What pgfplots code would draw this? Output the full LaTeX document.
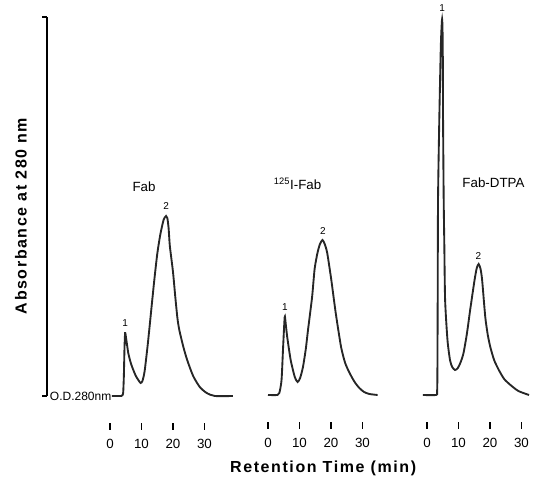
\documentclass[border=0pt]{standalone}
\usepackage{fontspec}
\setmainfont{Liberation Sans}
\newfontfamily\titlefont{Liberation Sans}[LetterSpace=10]
\usepackage{pgfplots}
\pgfplotsset{compat=1.18}

% 1 px of the reference = 0.75pt; 3.15 px per minute
\pgfplotsset{
  panel/.style={
    anchor=origin, x=2.3625pt, y=0.75pt,
    xmin=-1.5, xmax=40, ymin=-34, ymax=385,
    axis x line*=bottom, axis y line=none,
    x axis line style={draw=none},
    xtick={0,10,20,30},
    xtick align=inside, major tick length=5.25pt,
    tick style={line width=0.8pt, black},
    xticklabel style={font=\fontsize{10}{11}\selectfont, yshift=-3pt},
    /pgf/number format/assume math mode=true,
    clip=false,
  },
}
\tikzset{
  curve/.style={line width=1.4pt, black!85, smooth, tension=0.4},
  pk/.style={font=\fontsize{7.5}{9}\selectfont, inner sep=0pt},
  tl/.style={font=\fontsize{10}{11}\selectfont, inner sep=0pt},
}

\begin{document}
\begin{tikzpicture}
\path[use as bounding box] (0,0) rectangle (402.75pt,359.25pt);

% shared absorbance bracket
\begin{axis}[
  anchor=origin, at={(35.25pt,62.25pt)},
  x=1pt, y=0.75pt, xmin=0, xmax=1, ymin=0, ymax=379,
  axis x line=none, axis y line*=left,
  ytick={0,379}, yticklabels={},
  tick align=outside, major tick length=3.75pt,
  tick style={line width=0.8pt, black},
  y axis line style={line width=0.8pt},
  ylabel={\titlefont\bfseries\fontsize{12}{14}\selectfont Absorbance at 280 nm},
  ylabel style={at={(axis description cs:0,0.475)}, anchor=center, yshift=19.5pt},
  clip=false,
]
\node[anchor=west, inner sep=2pt, font=\fontsize{9}{10}\selectfont] at (axis cs:0,0) {O.D.280nm};
\end{axis}

% Fab
\begin{axis}[panel, at={(82.5pt,62.25pt)}]
\addplot[curve] coordinates {
  (0.6,0) (3.6,0) (4.0,1) (4.2,4) (4.4,20) (4.6,48) (4.8,63) (5.1,58)
  (5.8,43) (6.6,33) (7.4,26) (8.2,20) (9.0,16) (9.7,13) (10.3,15)
  (11.0,25) (12.0,52) (13.0,83) (14.0,114) (15.0,142) (16.0,162)
  (17.0,176) (17.5,179) (17.8,180) (18.2,178) (18.6,168) (19.0,150)
  (20.0,124) (20.7,100) (21.4,78) (22.0,66) (23.3,49) (24.5,36)
  (26.4,20) (28.5,9) (30.7,3) (33.3,0) (39.0,0)
};
\node[tl] at (axis cs:10.8,209) {Fab};
\node[pk] at (axis cs:17.8,190) {2};
\node[pk] at (axis cs:4.8,73) {1};
\end{axis}

% 125I-Fab
\begin{axis}[panel, at={(201pt,63pt)}]
\addplot[curve] coordinates {
  (0,0) (3.0,0) (3.6,2) (4.3,15) (4.8,48) (5.3,78) (5.6,72) (6.1,58)
  (7.2,35) (8.5,18) (9.4,13) (10.2,17) (11.1,28) (12.0,46) (12.7,65)
  (14.0,98) (14.8,126) (15.7,142) (16.5,151) (17.3,155) (18.0,151)
  (18.8,142) (20.1,115) (21.5,82) (23.2,48) (24.5,32) (25.9,22)
  (27.5,13) (29.0,7) (30.5,3) (32.2,1) (34.8,0)
};
\node[tl] at (axis cs:9.4,211) {\textsuperscript{125}I-Fab};
\node[pk] at (axis cs:17.4,164) {2};
\node[pk] at (axis cs:5.4,88) {1};
\node[font=\titlefont\bfseries\fontsize{12}{14}\selectfont] at (axis cs:17.5,-73) {Retention Time (min)};
\end{axis}

% Fab-DTPA
\begin{axis}[panel, at={(320.25pt,63pt)}]
\addplot[curve] coordinates {
  (-1.3,0) (2.9,0) (3.2,3) (3.3,20) (3.4,100) (3.5,195) (3.9,275)
  (4.4,350) (4.8,376) (5.0,350) (5.1,275) (5.3,195) (5.5,150)
  (5.75,95) (6.5,55) (7.3,35) (8.0,28) (8.9,25) (9.8,27) (10.7,33)
  (11.6,42) (12.7,62) (13.7,85) (15.1,115) (15.8,127) (16.4,131)
  (17.0,126) (17.5,115) (18.5,78) (19.3,60) (20.1,48) (21.3,35)
  (22.8,25) (24.5,16) (26.5,10) (29.0,4) (32.4,0)
};
\node[tl] at (axis cs:21.1,212) {Fab-DTPA};
\node[pk] at (axis cs:16.3,139) {2};
\node[pk] at (axis cs:4.8,387) {1};
\end{axis}
\end{tikzpicture}
\end{document}
